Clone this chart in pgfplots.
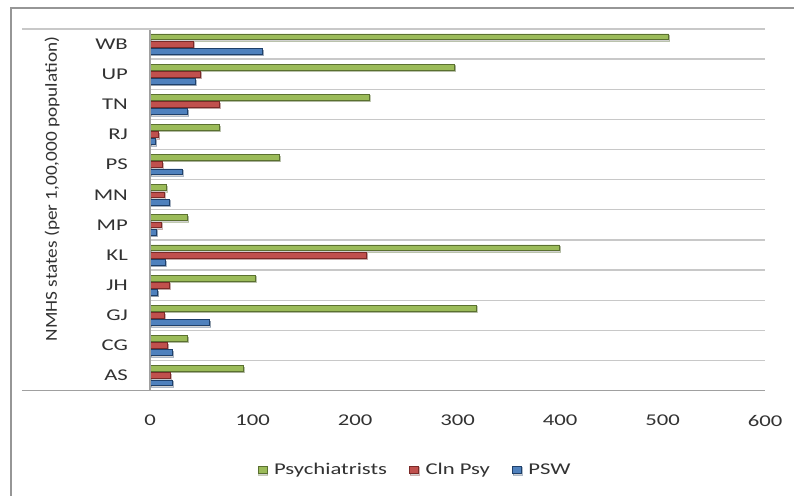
\documentclass[border=0pt]{standalone}
\usepackage{pgfplots}
\pgfplotsset{compat=1.18}
\usepackage{fontspec}
\setmainfont{Carlito}[FakeStretch=1.38]
\newfontfamily\ylabfont{Carlito}[FakeStretch=1.15]
\usetikzlibrary{shadows}
\definecolor{gfill}{HTML}{9BBB59}\definecolor{gedge}{HTML}{5A7030}
\definecolor{rfill}{HTML}{C0504D}\definecolor{redge}{HTML}{7A2A28}
\definecolor{bfill}{HTML}{4F81BD}\definecolor{bedge}{HTML}{1F406A}
\definecolor{gridc}{RGB}{200,200,200}
\definecolor{framec}{RGB}{150,150,150}
\definecolor{txt}{RGB}{50,50,50}
\newcommand{\lblfont}{\fontsize{16.5}{19}\selectfont}
\begin{document}
\begin{tikzpicture}[x=1bp,y=1bp]
\useasboundingbox (0,0) rectangle (794,496);
\fill[white] (0,0) rectangle (794,496);
\draw[framec, line width=2bp] (11,0) -- (11,488) -- (794,488);
\node[rotate=90, anchor=center, text=txt, font=\ylabfont\fontsize{16.8}{19}\selectfont] at (52,307) {NMHS states (per 1,00,000 population)};
\begin{axis}[
  at={(150bp,105.3bp)}, anchor=south west,
  scale only axis, width=615bp, height=361.7bp,
  xbar, bar width=5.8bp,
  xmin=0, xmax=600, ymin=-0.5, ymax=11.5,
  xtick={0,100,...,600},
  ytick={0,...,11},
  yticklabels={AS,CG,GJ,JH,KL,MP,MN,PS,RJ,TN,UP,WB},
  minor ytick={0.5,1.5,...,10.5},
  yminorgrids, minor tick length=0pt, major tick length=0pt,
  minor grid style={gridc, line width=1.3bp},
  axis line style={draw=none},
  /pgf/number format/assume math mode=true,
  tick label style={font=\lblfont, text=txt},
  xticklabel style={anchor=center, yshift=-30bp},
  yticklabel style={anchor=east, inner sep=0pt, xshift=-22bp},
  legend style={draw=none, fill=none, at={(axis description cs:0.431,-0.219)}, anchor=center,
    font=\lblfont, text=txt, legend columns=3,
    /tikz/every odd column/.append style={column sep=5bp},
    /tikz/every even column/.append style={column sep=20bp}},
  legend image code/.code={\draw[#1, line width=0.5bp] (0bp,-3.5bp) rectangle (9bp,4bp);},
  clip=false,
]
\addplot[bar shift=7.2bp, fill=gfill, draw=gedge, line width=0.7bp,
  drop shadow={shadow xshift=1bp, shadow yshift=-1.5bp, opacity=0.35}] coordinates {
(91.2,0) (36.7,1) (317.9,2) (102.8,3) (399.6,4) (36.7,5) (15.8,6) (126.3,7) (67.7,8) (213.7,9) (297.4,10) (506,11)};
\addplot[bar shift=0bp, fill=rfill, draw=redge, line width=0.7bp,
  drop shadow={shadow xshift=1bp, shadow yshift=-1.5bp, opacity=0.35}] coordinates {
(19.5,0) (17.3,1) (13.6,2) (18.8,3) (211.4,4) (10.9,5) (13.6,6) (11.7,7) (8.4,8) (67.7,9) (49.1,10) (42,11)};
\addplot[bar shift=-7.2bp, fill=bfill, draw=bedge, line width=0.7bp,
  drop shadow={shadow xshift=1bp, shadow yshift=-1.5bp, opacity=0.35}] coordinates {
(21.8,0) (21.8,1) (58.3,2) (7.6,3) (14.6,4) (6.4,5) (18.8,6) (31.1,7) (5.4,8) (36.7,9) (43.8,10) (109.9,11)};
\legend{Psychiatrists,Cln Psy,PSW}
\draw[gridc!80!black, line width=1.3bp] (rel axis cs:0,0) -- (rel axis cs:0,1);
\draw[gridc!80!black, line width=1.3bp] ([xshift=-128bp]rel axis cs:0,0) -- (rel axis cs:1,0);
\draw[gridc, line width=1.3bp] ([xshift=-128bp]rel axis cs:0,1) -- (rel axis cs:1,1);
\end{axis}
\end{tikzpicture}
\end{document}
